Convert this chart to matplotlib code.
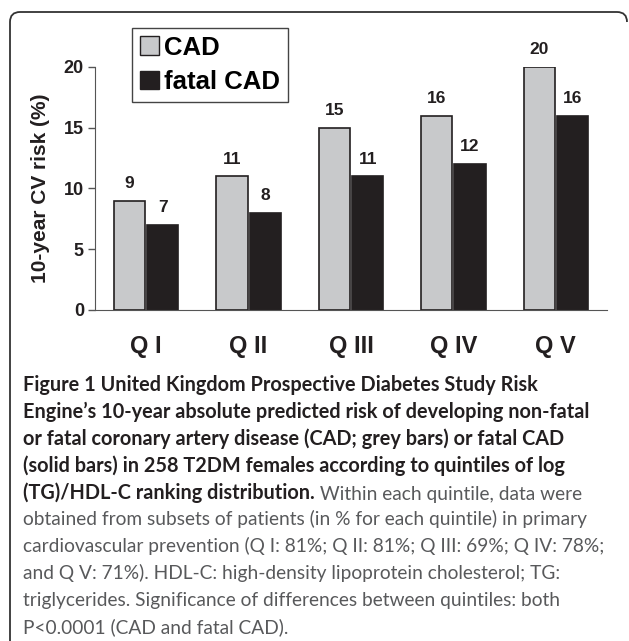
import numpy as np
import matplotlib.pyplot as plt
from matplotlib.path import Path
from matplotlib.patches import PathPatch, Patch
from matplotlib.transforms import Affine2D

quintiles = ["Q I", "Q II", "Q III", "Q IV", "Q V"]
cad = [9, 11, 15, 16, 20]
fatal_cad = [7, 8, 11, 12, 16]

W, H = 629, 641
fig = plt.figure(figsize=(W / 100, H / 100), dpi=100)
ax = fig.add_axes([95 / W, 1 - 310 / H, (607 - 95) / W, (310 - 67) / H])

grey = "#c8c9cb"
dark = "#231f20"
x = np.arange(len(quintiles))
w = 0.305
b1 = ax.bar(x - w / 2 - 0.01, cad, w, color=grey, edgecolor=dark, linewidth=1.2)
b2 = ax.bar(x + w / 2 + 0.01, fatal_cad, w, color=dark, edgecolor=dark, linewidth=1.2)
for bars in (b1, b2):
    for r in bars:
        ax.annotate(f"{r.get_height():g}", (r.get_x() + r.get_width() / 2, r.get_height()),
                    xytext=(0, 7), textcoords="offset points", ha="center", va="bottom",
                    fontsize=12.5, fontweight="bold", family="Liberation Sans", color=dark)

ax.set_xlim(-0.5, 4.5)
ax.set_ylim(0, 20)
ax.set_yticks([0, 5, 10, 15, 20])
ax.set_xticks(x)
ax.set_xticklabels(quintiles, fontsize=17, fontweight="bold", family="Liberation Sans", color=dark)
ax.tick_params(axis="x", length=0, pad=18)
ax.tick_params(axis="y", length=5, width=1, pad=3, color="#555555")
for t in ax.get_yticklabels():
    t.set_fontsize(13)
    t.set_fontweight("bold")
    t.set_family("Liberation Sans")
    t.set_color(dark)
ax.set_ylabel("10-year CV risk (%)", fontsize=15, fontweight="bold",
              family="Liberation Sans", color=dark, labelpad=10)
for s in ("top", "right"):
    ax.spines[s].set_visible(False)
ax.spines["left"].set_color("#555555")
ax.spines["bottom"].set_color("#555555")
ax.set_facecolor("none")

handles = [Patch(facecolor=grey, edgecolor=dark, linewidth=1), Patch(facecolor=dark, edgecolor=dark)]
leg = fig.legend(handles, ["CAD", "fatal CAD"], loc="upper left",
                 bbox_to_anchor=(132 / W, 1 - 28 / H), fancybox=False, borderaxespad=0,
                 prop={"family": "Liberation Sans", "weight": "bold", "size": 18.5},
                 handlelength=0.75, handleheight=0.75, handletextpad=0.2,
                 labelspacing=0.4, borderpad=0.3, framealpha=1)
leg.get_frame().set_edgecolor("#444444")
leg.get_frame().set_linewidth(1)

# rounded frame around the figure panel
px = Affine2D().scale(1 / W, -1 / H).translate(0, 1) + fig.transFigure
verts = [(10, 641), (10, 22), (10, 12), (20, 12), (617, 12), (627, 12), (627, 22)]
codes = [Path.MOVETO, Path.LINETO, Path.CURVE3, Path.CURVE3, Path.LINETO, Path.CURVE3, Path.CURVE3]
fig.patches.append(PathPatch(Path(verts, codes), transform=px, fill=False,
                             edgecolor="#333333", linewidth=1.3))

# caption
cap_font = "Lato"
bold_lines = [
    "Figure 1 United Kingdom Prospective Diabetes Study Risk",
    "Engine\u2019s 10-year absolute predicted risk of developing non-fatal",
    "or fatal coronary artery disease (CAD; grey bars) or fatal CAD",
    "(solid bars) in 258 T2DM females according to quintiles of log",
]
reg_lines = [
    "obtained from subsets of patients (in % for each quintile) in primary",
    "cardiovascular prevention (Q I: 81%; Q II: 81%; Q III: 69%; Q IV: 78%;",
    "and Q V: 71%). HDL-C: high-density lipoprotein cholesterol; TG:",
    "triglycerides. Significance of differences between quintiles: both",
    "P<0.0001 (CAD and fatal CAD).",
]
x0 = 23 / W
y0 = 391
step = 26.9
fs = 14.3
fs_reg = 13.8
cap_col = "#58595b"
for i, line in enumerate(bold_lines):
    fig.text(x0, 1 - (y0 + i * step) / H, line, fontsize=fs, fontweight="bold",
             family=cap_font, color=dark, va="baseline")
yb = 1 - (y0 + 4 * step) / H
t1 = fig.text(x0, yb, "(TG)/HDL-C ranking distribution.", fontsize=fs, fontweight="bold",
              family=cap_font, color=dark, va="baseline")
ax.annotate(" Within each quintile, data were", xy=(1, 0), xycoords=t1, va="bottom",
            fontsize=fs_reg, family=cap_font, color=cap_col, annotation_clip=False)
for i, line in enumerate(reg_lines):
    fig.text(x0, 1 - (y0 + (5 + i) * step) / H, line, fontsize=fs_reg,
             family=cap_font, color=cap_col, va="baseline")

fig.savefig("out.png", dpi=100)
